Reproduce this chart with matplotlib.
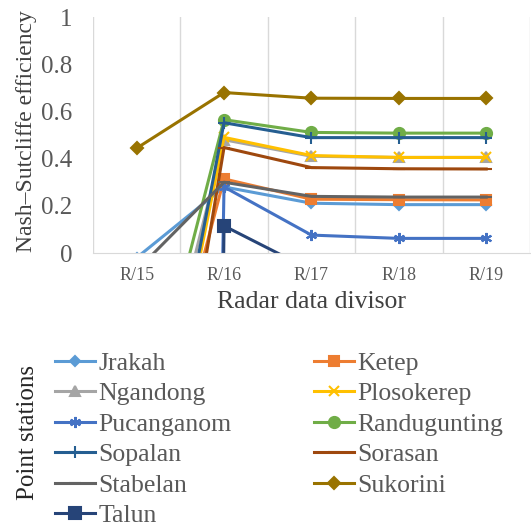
import matplotlib
matplotlib.use('Agg')
import matplotlib.pyplot as plt

plt.rcParams['font.family'] = ['Liberation Serif', 'DejaVu Serif']

# Radar divisors on the x axis
divisors = ['R/15', 'R/16', 'R/17', 'R/18', 'R/19']

# Nash-Sutcliffe efficiency per point station
jrakah = [-0.02, 0.28, 0.211, 0.205, 0.205]
ketep = [-1.09, 0.314, 0.228, 0.226, 0.225]
ngandong = [-1.0, 0.48, 0.41, 0.405, 0.405]
plosokerep = [-1.34, 0.49, 0.413, 0.405, 0.405]
pucanganom = [-20.0, 0.28, 0.076, 0.062, 0.062]
randugunting = [-0.88, 0.565, 0.511, 0.508, 0.508]
sopalan = [-1.37, 0.552, 0.489, 0.489, 0.489]
sorasan = [-1.79, 0.447, 0.362, 0.357, 0.356]
stabelan = [-0.074, 0.30, 0.24, 0.237, 0.237]
sukorini = [0.444, 0.68, 0.656, 0.655, 0.655]
talun = [-30.0, 0.115, -0.073, -0.08, -0.08]

# name, values, colour, marker, marker size
stations = [
    ('Jrakah', jrakah, '#5B9BD5', 'D', 5.5),
    ('Ketep', ketep, '#ED7D31', 's', 7),
    ('Ngandong', ngandong, '#A5A5A5', '^', 7),
    ('Plosokerep', plosokerep, '#FFC000', 'x', 7),
    ('Pucanganom', pucanganom, '#4472C4', (6, 2, 0), 8),
    ('Randugunting', randugunting, '#70AD47', 'o', 8),
    ('Sopalan', sopalan, '#255E91', '+', 8),
    ('Sorasan', sorasan, '#9E480E', '_', 8),
    ('Stabelan', stabelan, '#636363', '_', 8),
    ('Sukorini', sukorini, '#997300', 'D', 6),
    ('Talun', talun, '#264478', 's', 8),
]

fig = plt.figure(figsize=(5.31, 5.30), dpi=100)
ax = fig.add_axes([0.175, 0.5226, 0.823, 0.4453])

x = list(range(len(divisors)))
handles = {}
for name, values, color, marker, size in stations:
    line, = ax.plot(x, values, color=color, linewidth=2.2, marker=marker,
                    markersize=size, markeredgewidth=1.5, label=name)
    handles[name] = line

ax.set_xlim(-0.5, len(divisors) - 0.5)
ax.set_ylim(0, 1)
ax.set_xticks(x)
ax.set_xticklabels(divisors, fontsize=13, color='#595959')
ax.set_yticks([0, 0.2, 0.4, 0.6, 0.8, 1])
ax.set_yticklabels(['0', '0.2', '0.4', '0.6', '0.8', '1'], fontsize=18, color='#595959')
ax.tick_params(axis='both', length=0)
ax.tick_params(axis='y', pad=15)
ax.tick_params(axis='x', pad=10)

# vertical gridlines between categories
ax.set_xticks([i - 0.5 for i in range(len(divisors) + 1)], minor=True)
ax.tick_params(axis='x', which='minor', length=0)
ax.grid(True, axis='x', which='minor', color='#D9D9D9', linewidth=1)
for side in ['top', 'right', 'left']:
    ax.spines[side].set_visible(False)
ax.spines['bottom'].set_color('#D9D9D9')

ax.set_xlabel('Radar data divisor', fontsize=18.5, color='#404040', labelpad=5)
ax.set_ylabel('Nash\u2013Sutcliffe efficiency', fontsize=17, color='#404040')
ax.yaxis.set_label_coords(-0.128, 0.515)

# two-column legend below the chart, filled row by row
col1 = ['Jrakah', 'Ngandong', 'Pucanganom', 'Sopalan', 'Stabelan', 'Talun']
col2 = ['Ketep', 'Plosokerep', 'Randugunting', 'Sorasan', 'Sukorini']
order = col1 + col2
leg = fig.legend([handles[n] for n in order], order, ncol=2, loc='upper left',
                 bbox_to_anchor=(55 / 531, 1 - 352 / 530), frameon=False,
                 borderaxespad=0, borderpad=0, fontsize=18.5, handlelength=1.55,
                 handletextpad=0.15, labelspacing=0.29, columnspacing=3.2)
for t in leg.get_texts():
    t.set_color('#595959')

fig.text(28 / 531, 1 - 432 / 530, 'Point stations', rotation=90, fontsize=18,
         color='#262626', ha='center', va='center')

fig.savefig('out.png', dpi=100)
